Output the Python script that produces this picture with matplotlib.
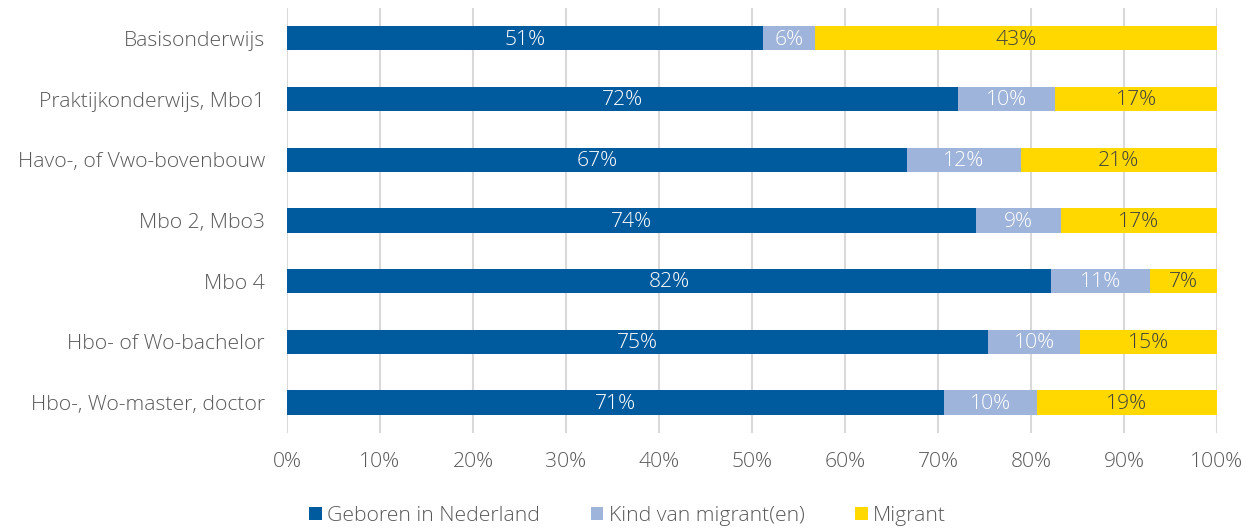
import matplotlib.pyplot as plt
import numpy as np

categories = ["Basisonderwijs", "Praktijkonderwijs, Mbo1", "Havo-, of Vwo-bovenbouw",
              "Mbo 2, Mbo3", "Mbo 4", "Hbo- of Wo-bachelor", "Hbo-, Wo-master, doctor"]
geboren = [51.2, 72.2, 66.7, 74.1, 82.2, 75.4, 70.6]
kind = [5.6, 10.4, 12.2, 9.1, 10.6, 9.9, 10.0]
migrant = [43.2, 17.4, 21.1, 16.8, 7.2, 14.7, 19.4]
series_names = ["Geboren in Nederland", "Kind van migrant(en)", "Migrant"]

colors = ["#005A9E", "#9FB4DA", "#FFD800"]
label_colors = ["white", "white", "#404040"]

plt.rcParams['font.family'] = ['Open Sans', 'DejaVu Sans']
plt.rcParams['font.weight'] = 300
text_grey = "#595959"
fs = 15.2

fig = plt.figure(figsize=(12.55, 5.29), dpi=100)
ax = fig.add_axes([0.2287, 0.1815, 0.741, 0.8035])

y = np.arange(len(categories))
left = np.zeros(len(categories))
for vals, name, c, lc in zip([geboren, kind, migrant], series_names, colors, label_colors):
    vals = np.array(vals)
    ax.barh(y, vals, left=left, height=0.4, color=c, label=name, zorder=3)
    for yi, l, v in zip(y, left, vals):
        ax.text(l + v / 2, yi + 0.02, f"{round(v):.0f}%", ha="center", va="center",
                color=lc, fontsize=fs, zorder=4)
    left += vals

ax.set_xlim(0, 100)
ax.set_ylim(6.5, -0.5)
ax.set_yticks(y)
ax.set_yticklabels(categories)
ax.set_xticks(np.arange(0, 101, 10))
ax.set_xticklabels([f"{t}%" for t in range(0, 101, 10)])
ax.tick_params(axis="both", length=0, labelsize=fs, labelcolor=text_grey)
ax.tick_params(axis="y", pad=16)
ax.tick_params(axis="x", pad=14)
ax.grid(axis="x", color="#D9D9D9", linewidth=1.5, zorder=0)
for s in ["top", "right", "bottom", "left"]:
    ax.spines[s].set_visible(False)

leg = fig.legend(loc="lower center", bbox_to_anchor=(0.5, -0.03), ncol=3, frameon=False,
                 fontsize=fs, handlelength=0.6, handleheight=0.6, handletextpad=0.25,
                 columnspacing=2.4)
for t in leg.get_texts():
    t.set_color(text_grey)

plt.savefig("out.png")
